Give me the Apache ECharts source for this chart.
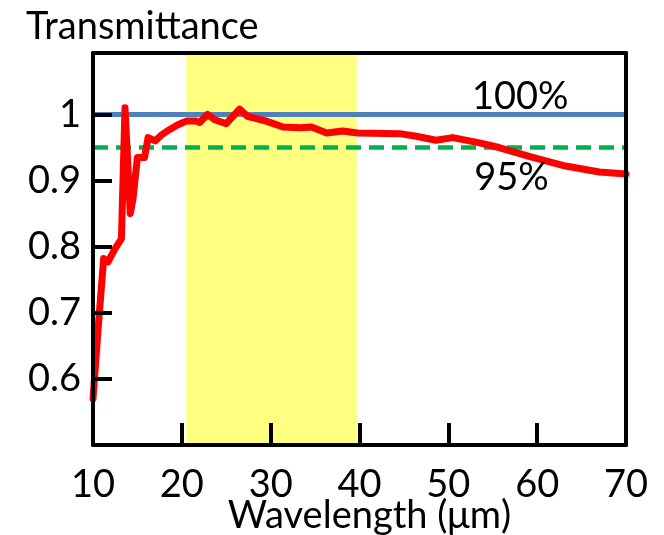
<!DOCTYPE html>
<html>
<head>
<meta charset="utf-8">
<script src="https://cdn.jsdelivr.net/npm/echarts@6/dist/echarts.min.js"></script>
<style>
  html, body { margin: 0; padding: 0; background: #fff; }
  #chart { width: 664px; height: 535px; }
</style>
</head>
<body>
<div id="chart"></div>
<script>
// wavelength (um) and transmittance
var wavelength = [10.0, 10.6, 11.2, 11.7, 12.4, 13.2, 13.6, 14.2, 14.5, 15.0, 15.8, 16.2, 17.0, 17.8, 18.6, 19.5, 20.5, 21.6, 22.0, 22.9, 23.7, 25.0, 26.5, 27.4, 29.5, 31.4, 33.3, 34.6, 36.3, 38.1, 39.8, 44.5, 46.4, 48.6, 50.5, 53.5, 55.7, 59.5, 63.2, 67.0, 70.0]
var transmittance = [0.57, 0.68, 0.782, 0.777, 0.795, 0.812, 1.01, 0.85, 0.872, 0.935, 0.935, 0.965, 0.96, 0.97, 0.977, 0.984, 0.99, 0.99, 0.988, 1.0, 0.992, 0.986, 1.008, 0.997, 0.99, 0.981, 0.98, 0.981, 0.972, 0.975, 0.972, 0.971, 0.967, 0.961, 0.965, 0.957, 0.95, 0.935, 0.922, 0.913, 0.91]
var xTicks = [10, 20, 30, 40, 50, 60, 70]
var xInnerTicks = [20, 30, 40, 50, 60]
var yTicks = [0.6, 0.7, 0.8, 0.9, 1]
var bandRange = [20.5, 39.7]
var refFull = 1.0
var refLow = 0.95

var font = 'Lato'
var fs = 38
var chart = echarts.init(document.getElementById('chart'))

var lineData = wavelength.map(function (w, i) { return [w, transmittance[i]] })

var option = {
  animation: false,
  title: {
    text: 'Transmittance',
    left: 21,
    top: 3,
    textStyle: { fontFamily: font, fontSize: fs, fontWeight: 'normal', color: '#000' }
  },
  grid: { left: 93, right: 38, top: 53, bottom: 90, outerBoundsMode: 'none' },
  xAxis: [
    {
      type: 'value',
      min: 10,
      max: 70,
      interval: 10,
      z: 10,
      axisLine: { show: true, lineStyle: { color: '#000', width: 4 } },
      axisTick: { show: true, inside: true, length: 22, customValues: xInnerTicks, lineStyle: { color: '#000', width: 4 } },
      axisLabel: { customValues: xTicks, margin: 21, fontFamily: font, fontSize: fs, color: '#000' },
      splitLine: { show: false },
      name: 'Wavelength (μm)',
      nameLocation: 'middle',
      nameGap: 52,
      nameMoveOverlap: false,
      nameTextStyle: { fontFamily: font, fontSize: fs, color: '#000', padding: [0, 0, 0, 20] }
    },
    {
      type: 'value',
      position: 'top',
      min: 10,
      max: 70,
      z: 10,
      axisLine: { show: true, lineStyle: { color: '#000', width: 4 } },
      axisTick: { show: false },
      axisLabel: { show: false },
      splitLine: { show: false }
    }
  ],
  yAxis: [
    {
      type: 'value',
      min: 0.5,
      max: 1.093,
      interval: 0.1,
      z: 10,
      axisLine: { show: true, lineStyle: { color: '#000', width: 4 } },
      axisTick: { show: true, inside: true, length: 19, customValues: yTicks, lineStyle: { color: '#000', width: 4 } },
      axisLabel: { customValues: yTicks, margin: 12, fontFamily: font, fontSize: fs, color: '#000' },
      splitLine: { show: false }
    },
    {
      type: 'value',
      position: 'right',
      min: 0.5,
      max: 1.093,
      z: 10,
      axisLine: { show: true, lineStyle: { color: '#000', width: 4 } },
      axisTick: { show: false },
      axisLabel: { show: false },
      splitLine: { show: false }
    }
  ],
  series: [
    {
      name: '100%',
      type: 'line',
      z: 2,
      symbol: 'none',
      data: [[10, refFull], [70, refFull]],
      lineStyle: { color: '#4F81BD', width: 5 },
      markArea: {
        silent: true,
        itemStyle: { color: '#FFFF80' },
        data: [[{ xAxis: bandRange[0] }, { xAxis: bandRange[1] }]]
      },
      markPoint: {
        symbolSize: 0,
        label: { show: true, position: 'inside', formatter: '100%', fontFamily: font, fontSize: fs, color: '#000' },
        data: [{ coord: [58.1, 1.027] }]
      }
    },
    {
      name: '95%',
      type: 'line',
      z: 3,
      symbol: 'none',
      data: [[10, refLow], [70, refLow]],
      lineStyle: { color: '#00B050', width: 4.5, type: [15, 8] },
      markPoint: {
        symbolSize: 0,
        label: { show: true, position: 'inside', formatter: '95%', fontFamily: font, fontSize: fs, color: '#000' },
        data: [{ coord: [57.1, 0.904] }]
      }
    },
    {
      name: 'Transmittance',
      type: 'line',
      z: 4,
      symbol: 'none',
      data: lineData,
      lineStyle: { color: '#FF0000', width: 7, join: 'round', cap: 'round' }
    }
  ]
}

chart.setOption(option)
window.addEventListener('resize', function () {
  chart.resize()
})
</script>
</body>
</html>
